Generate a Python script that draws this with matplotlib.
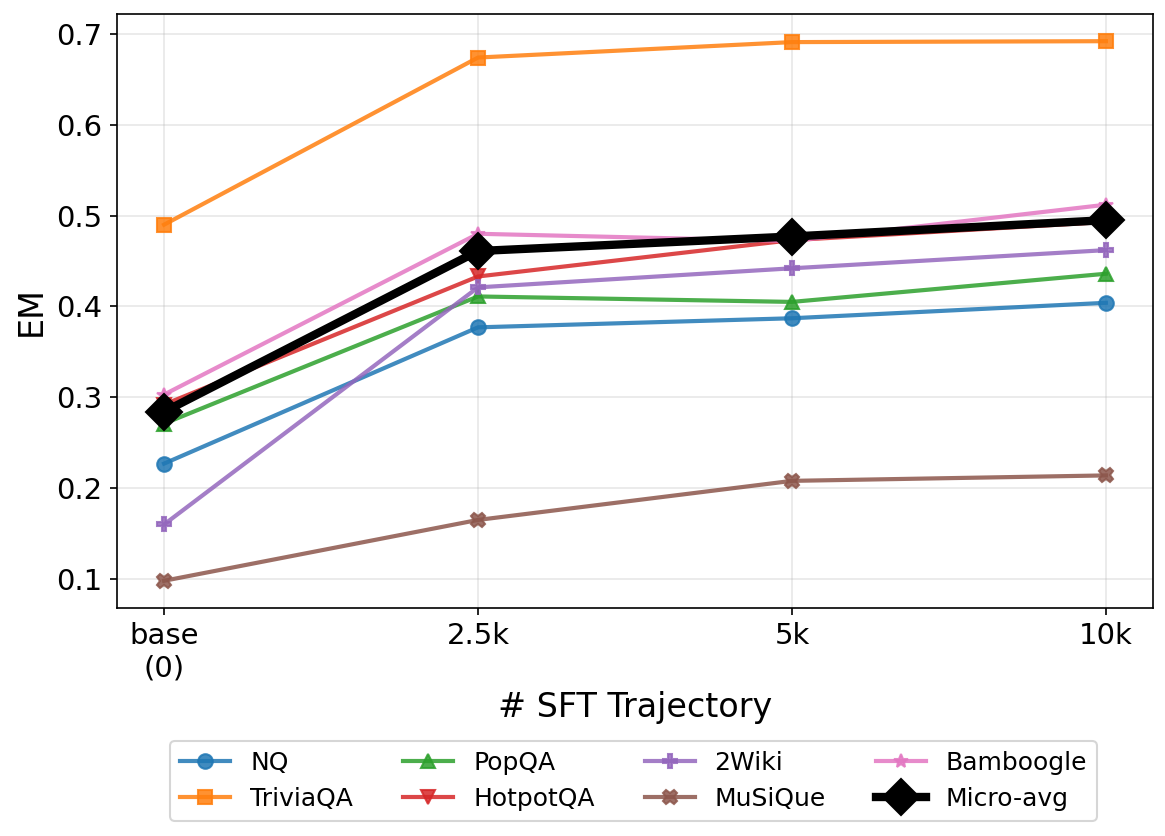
import matplotlib
matplotlib.use("Agg")
import matplotlib.pyplot as plt

x_labels = ["base\n(0)", "2.5k", "5k", "10k"]
nq = [0.227, 0.377, 0.387, 0.404]
triviaqa = [0.490, 0.674, 0.691, 0.692]
popqa = [0.271, 0.411, 0.405, 0.436]
hotpotqa = [0.292, 0.433, 0.473, 0.493]
wiki2 = [0.160, 0.421, 0.442, 0.462]
musique = [0.098, 0.165, 0.208, 0.214]
bamboogle = [0.303, 0.480, 0.472, 0.512]
micro_avg = [0.284, 0.461, 0.477, 0.495]

series = [
    ("NQ", nq, "o", "#1f77b4"),
    ("TriviaQA", triviaqa, "s", "#ff7f0e"),
    ("PopQA", popqa, "^", "#2ca02c"),
    ("HotpotQA", hotpotqa, "v", "#d62728"),
    ("2Wiki", wiki2, "P", "#9467bd"),
    ("MuSiQue", musique, "X", "#8c564b"),
    ("Bamboogle", bamboogle, "*", "#e377c2"),
]

fig = plt.figure(figsize=(1165/150, 836/150), dpi=150)
ax = fig.add_axes([0.1004, 0.273, 0.8893, 0.710])
xs = list(range(len(x_labels)))
for name, vals, m, c in series:
    ax.plot(xs, vals, marker=m, color=c, label=name, linewidth=2, markersize=7, alpha=0.85)
ax.plot(xs, micro_avg, marker="D", color="black", label="Micro-avg", linewidth=4, markersize=12, zorder=5)

ax.set_xticks(xs)
ax.set_xticklabels(x_labels)
ax.tick_params(labelsize=14)
ax.set_xlabel("# SFT Trajectory", fontsize=16)
ax.set_ylabel("EM", fontsize=16)
ax.grid(True, alpha=0.3)

handles, labels = ax.get_legend_handles_labels()
fig.legend(handles, labels, loc="upper center", bbox_to_anchor=(0.544, 0.129), ncol=4, fontsize=12)

fig.savefig("out.png", dpi=150)
